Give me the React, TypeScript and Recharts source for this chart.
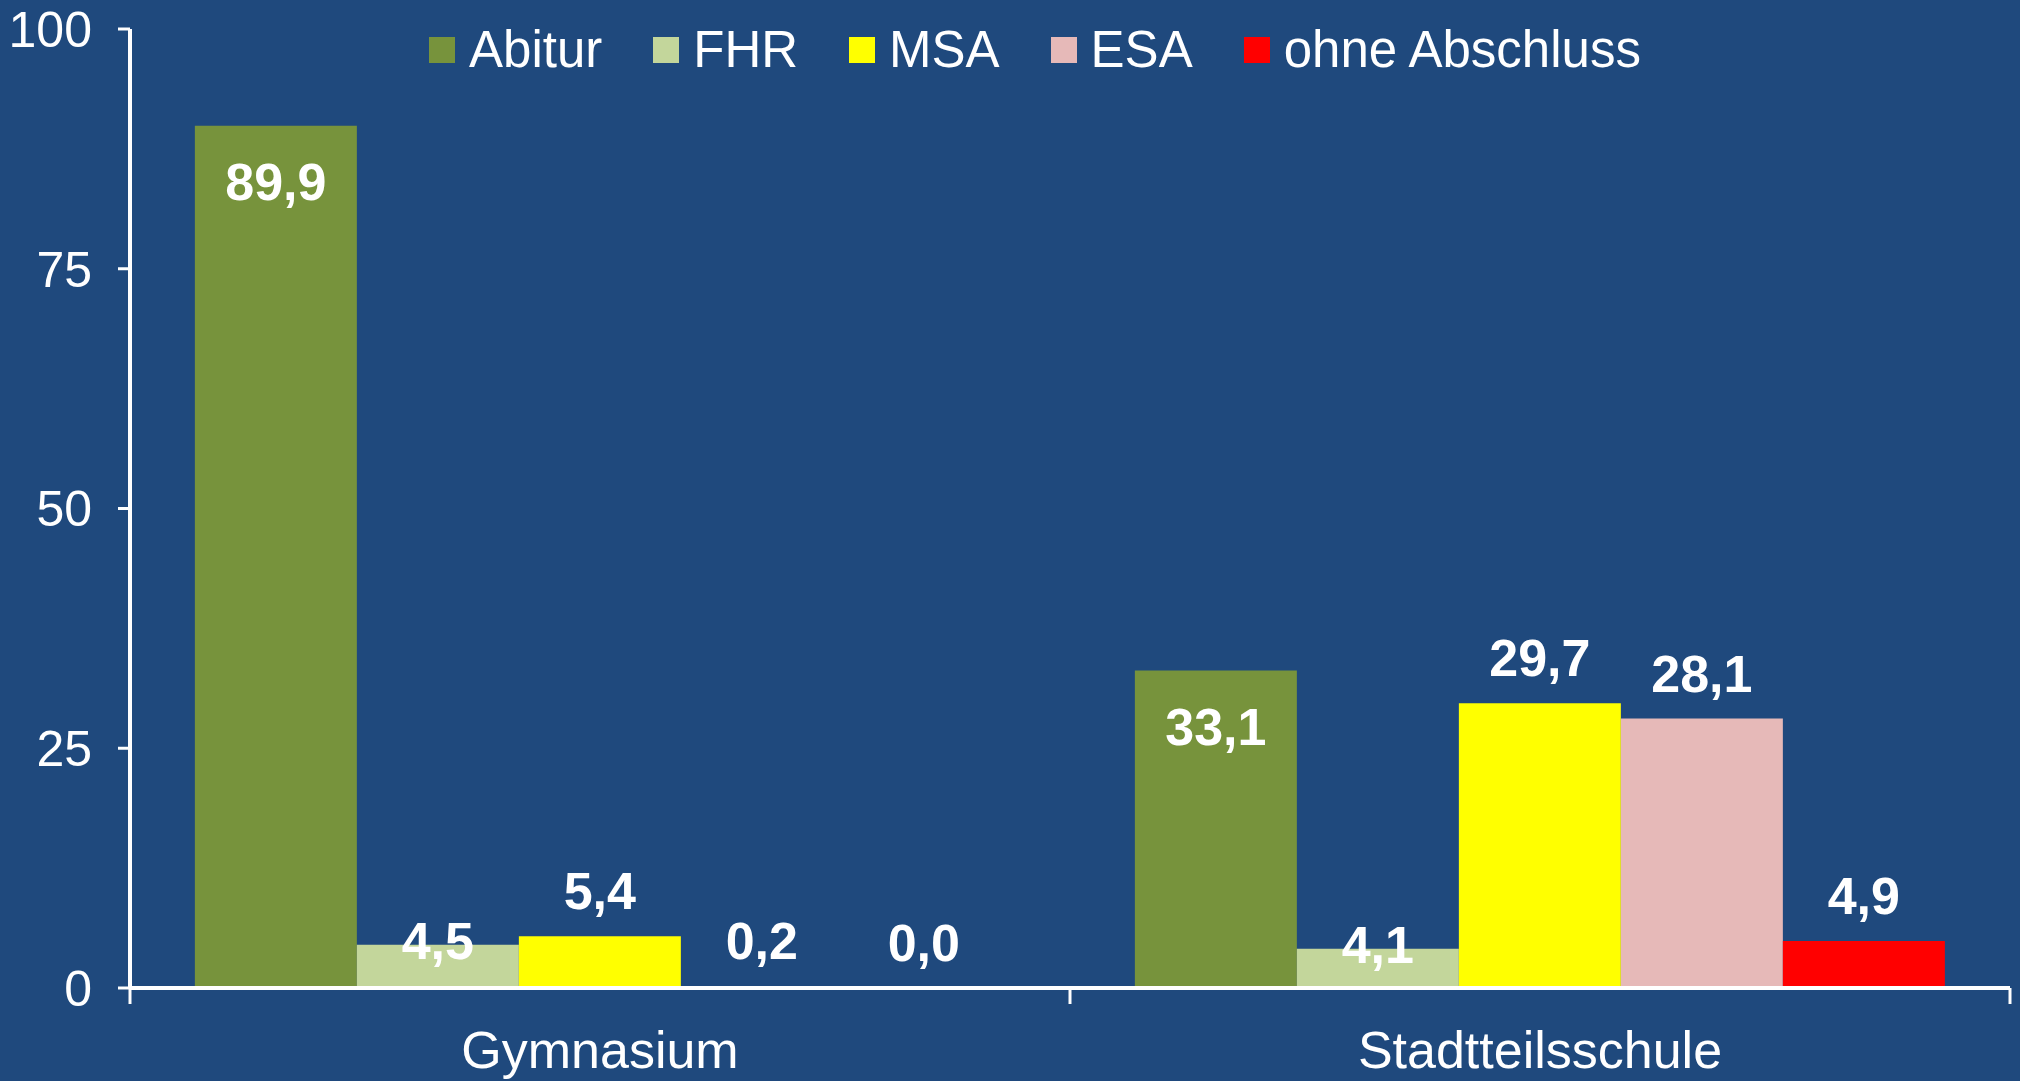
import { BarChart, Bar, XAxis, YAxis, Legend, LabelList } from "recharts";

const categories = ["Gymnasium", "Stadtteilsschule"];
const abitur = [89.9, 33.1];
const fhr = [4.5, 4.1];
const msa = [5.4, 29.7];
const esa = [0.2, 28.1];
const ohne = [0.0, 4.9];
const yTicks = [0, 25, 50, 75, 100];

const FONT = "'Liberation Sans', Arial, sans-serif";

const series = [
  { key: "Abitur", values: abitur, color: "#77933C", label: "inside" },
  { key: "FHR", values: fhr, color: "#C3D69B", label: "edge" },
  { key: "MSA", values: msa, color: "#FFFF00", label: "outside" },
  { key: "ESA", values: esa, color: "#E6B9B8", label: "outside" },
  { key: "ohne Abschluss", values: ohne, color: "#FF0000", label: "outside" },
];

const data = categories.map((name, i) => {
  const row: Record<string, string | number> = { name };
  series.forEach((s) => {
    row[s.key] = s.values[i];
  });
  return row;
});

const fmt = (v: number) => v.toFixed(1).replace(".", ",");

function makeLabel(mode: string) {
  return (props: any) => {
    const { x, y, width, value } = props;
    let baseline = y - 27;
    if (mode === "inside") baseline = y + 74;
    if (mode === "edge") baseline = y + 14;
    return (
      <text
        x={x + width / 2}
        y={baseline}
        textAnchor="middle"
        fill="#FFFFFF"
        fontFamily={FONT}
        fontWeight="bold"
        fontSize={52}
      >
        {fmt(Number(value))}
      </text>
    );
  };
}

function CategoryTick(props: any) {
  const { x, y, payload, index } = props;
  const half = payload && payload.offset ? payload.offset : 470;
  return (
    <g>
      <line x1={x - half} x2={x - half} y1={y} y2={y + 16} stroke="#FFFFFF" strokeWidth={3} />
      {index === categories.length - 1 && (
        <line x1={x + half} x2={x + half} y1={y} y2={y + 16} stroke="#FFFFFF" strokeWidth={3} />
      )}
      <text x={x} y={y + 80} textAnchor="middle" fill="#FFFFFF" fontFamily={FONT} fontSize={52}>
        {payload.value}
      </text>
    </g>
  );
}

function LegendContent() {
  return (
    <div style={{ display: "flex", alignItems: "center", fontFamily: FONT, fontSize: 51, lineHeight: 1, color: "#FFFFFF" }}>
      {series.map((s) => (
        <div key={s.key} style={{ display: "flex", alignItems: "center", marginRight: 51 }}>
          <div style={{ width: 26, height: 26, background: s.color, marginRight: 14 }} />
          <span style={{ whiteSpace: "nowrap" }}>{s.key}</span>
        </div>
      ))}
    </div>
  );
}

// tiny height so zero-value bars still get their label
const keepZero = (v: number) => (v === 0 ? 0.01 : 0);

export default function App() {
  return (
    <div style={{ position: "fixed", left: 0, top: 0, width: 2020, height: 1081, background: "#1F497D", fontFamily: FONT }}>
      <BarChart
        width={2020}
        height={1081}
        data={data}
        margin={{ top: 29, right: 10, bottom: 0, left: 0 }}
        barCategoryGap="6.9%"
        barGap={0}
      >
        <XAxis
          dataKey="name"
          height={93}
          stroke="#FFFFFF"
          strokeWidth={4}
          tickLine={false}
          tickSize={0}
          tickMargin={0}
          tick={<CategoryTick />}
          interval={0}
        />
        <YAxis
          width={130}
          domain={[0, 100]}
          ticks={yTicks}
          stroke="#FFFFFF"
          strokeWidth={4}
          tickSize={12}
          tickMargin={26}
          tick={{ fill: "#FFFFFF", fontSize: 50, fontFamily: FONT }}
          tickLine={{ stroke: "#FFFFFF", strokeWidth: 3 }}
          allowDataOverflow
        />
        <Legend
          layout="horizontal"
          verticalAlign="middle"
          content={<LegendContent />}
          wrapperStyle={{ top: 24, left: 429, width: "auto" }}
        />
        {series.map((s) => (
          <Bar key={s.key} dataKey={s.key} fill={s.color} minPointSize={keepZero} isAnimationActive={false}>
            <LabelList dataKey={s.key} content={makeLabel(s.label)} />
          </Bar>
        ))}
      </BarChart>
    </div>
  );
}
